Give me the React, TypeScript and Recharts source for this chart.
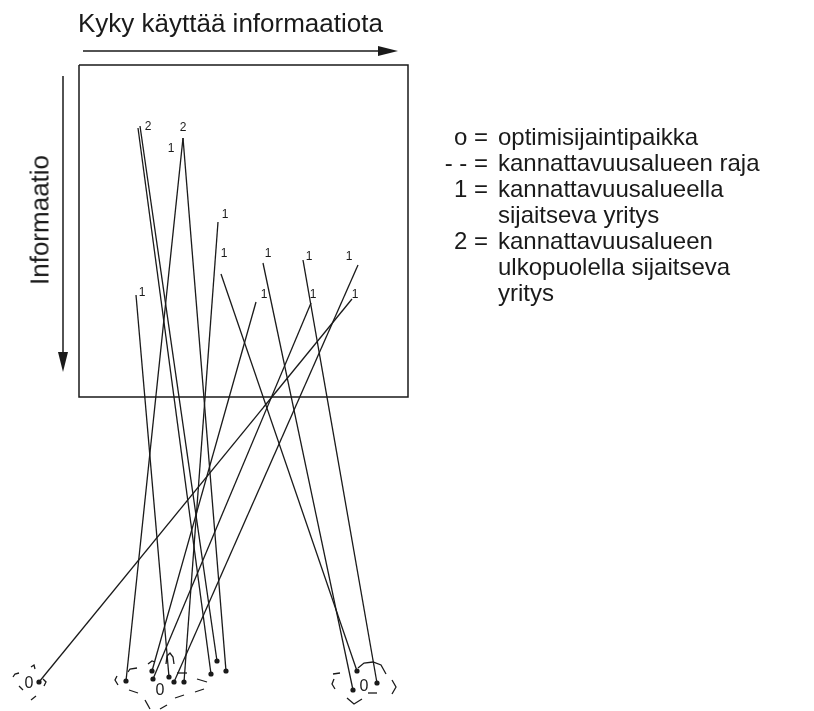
import { ComposedChart, Line, Scatter, XAxis, YAxis } from "recharts";

// diagram coordinates (same units as the picture)
const boxX = [79, 408, 408, 79, 79];
const boxY = [65, 65, 397, 397, 65];

// firm position inside the box -> realised location at the bottom
const fromX = [138, 140, 183, 183, 218, 136, 256, 311, 358, 352, 221, 263, 303];
const fromY = [128, 126, 138, 138, 222, 295, 302, 303, 265, 299, 274, 263, 260];
const toX = [211, 217, 126, 226, 184, 169, 152, 153, 174, 39, 357, 353, 377];
const toY = [674, 661, 681, 671, 682, 677, 671, 679, 682, 682, 671, 690, 683];

// firm labels 1 / 2
const labelText = ["2", "2", "1", "1", "1", "1", "1", "1", "1", "1", "1", "1"];
const labelX = [148, 183, 171, 225, 224, 268, 309, 349, 142, 264, 313, 355];
const labelY = [126, 127, 148, 214, 253, 253, 256, 256, 292, 294, 294, 294];

// optimum locations
const optX = [29, 160, 364];
const optY = [682, 689, 685];

// hand drawn boundary dashes (polylines)
const dashes: number[][][] = [
  [[13, 677], [15, 674], [19, 673]],
  [[19, 686], [23, 690]],
  [[31, 667], [34, 665], [35, 669]],
  [[43, 679], [46, 682], [44, 686]],
  [[31, 700], [36, 696]],
  [[117, 676], [115, 680], [118, 685]],
  [[128, 672], [130, 669], [137, 668]],
  [[129, 690], [138, 693]],
  [[145, 700], [150, 709]],
  [[160, 709], [167, 705]],
  [[175, 698], [184, 695]],
  [[195, 692], [204, 689]],
  [[197, 679], [207, 682]],
  [[148, 664], [152, 661], [155, 662]],
  [[166, 664], [167, 656], [170, 653], [173, 657], [174, 664]],
  [[177, 673], [187, 673]],
  [[333, 674], [340, 673]],
  [[334, 679], [332, 684], [335, 689]],
  [[347, 698], [354, 704], [362, 699]],
  [[368, 693], [377, 693]],
  [[392, 680], [396, 687], [392, 694]],
  [[358, 668], [364, 663], [373, 662], [381, 665], [386, 674]],
];

// axis arrows
const arrowShaftX = [[83, 385], [63, 63]];
const arrowShaftY = [[51, 51], [76, 355]];
const arrowTipX = [398, 63];
const arrowTipY = [51, 372];
const arrowDir = ["right", "down"];

const legendSymbols = ["o =", "- - =", "1 =", "", "2 =", "", ""];
const legendTexts = [
  "optimisijaintipaikka",
  "kannattavuusalueen raja",
  "kannattavuusalueella",
  "sijaitseva yritys",
  "kannattavuusalueen",
  "ulkopuolella sijaitseva",
  "yritys",
];

const FONT = "'Liberation Sans', Arial, Helvetica, sans-serif";
const INK = "#1a1a1a";

const segments = fromX.map((_, i) => [
  { x: fromX[i], y: fromY[i] },
  { x: toX[i], y: toY[i] },
]);
const box = boxX.map((x, i) => ({ x, y: boxY[i] }));
const ends = toX.map((x, i) => ({ x, y: toY[i] }));
const labels = labelX.map((x, i) => ({ x, y: labelY[i], t: labelText[i] }));
const optima = optX.map((x, i) => ({ x, y: optY[i] }));
const shafts = arrowShaftX.map((xs, i) => xs.map((x, j) => ({ x, y: arrowShaftY[i][j] })));
const tips = arrowTipX.map((x, i) => ({ x, y: arrowTipY[i], d: arrowDir[i] }));

function TextMark(props: any) {
  const { cx, cy, payload, size, text } = props;
  return (
    <text x={cx} y={cy} textAnchor="middle" dominantBaseline="central" fontSize={size} fontFamily={FONT} fill={INK}>
      {text ?? payload.t}
    </text>
  );
}

function ArrowHead(props: any) {
  const { cx, cy, payload } = props;
  const pts =
    payload.d === "right"
      ? `${cx},${cy} ${cx - 20},${cy - 5} ${cx - 20},${cy + 5}`
      : `${cx},${cy} ${cx - 5},${cy - 20} ${cx + 5},${cy - 20}`;
  return <polygon points={pts} fill={INK} />;
}

export default function App() {
  return (
    <div style={{ position: "relative", width: 806, height: 703, fontFamily: FONT, color: INK }}>
      <div style={{ willChange: "transform", width: 806, height: 703 }}>
        <ComposedChart width={806} height={703} margin={{ top: 0, right: 0, bottom: 0, left: 0 }}>
          <XAxis type="number" dataKey="x" domain={[8, 814]} hide />
          <YAxis type="number" dataKey="y" domain={[8, 711]} reversed hide />
          <Line data={box} dataKey="y" stroke={INK} strokeWidth={1.5} dot={false} isAnimationActive={false} />
          {shafts.map((s, i) => (
            <Line key={"a" + i} data={s} dataKey="y" stroke={INK} strokeWidth={1.5} dot={false} isAnimationActive={false} />
          ))}
          {segments.map((s, i) => (
            <Line key={"s" + i} data={s} dataKey="y" stroke={INK} strokeWidth={1.3} dot={false} isAnimationActive={false} />
          ))}
          {dashes.map((d, i) => (
            <Line
              key={"d" + i}
              data={d.map(([x, y]) => ({ x, y }))}
              dataKey="y"
              stroke={INK}
              strokeWidth={1.3}
              dot={false}
              isAnimationActive={false}
            />
          ))}
          <Scatter data={tips} shape={<ArrowHead />} isAnimationActive={false} />
          <Scatter data={ends} fill={INK} shape={(p: any) => <circle cx={p.cx} cy={p.cy} r={2.6} fill={INK} />} isAnimationActive={false} />
          <Scatter data={labels} shape={(p: any) => <TextMark {...p} size={12} />} isAnimationActive={false} />
          <Scatter data={optima} shape={(p: any) => <TextMark {...p} size={16} text="0" />} isAnimationActive={false} />
        </ComposedChart>
      </div>

      <div style={{ position: "absolute", left: 70, top: 0, fontSize: 26, whiteSpace: "nowrap" }}>
        Kyky käyttää informaatiota
      </div>
      <div
        style={{
          position: "absolute",
          left: 40 - 8,
          top: 220 - 8,
          fontSize: 26,
          whiteSpace: "nowrap",
          transform: "translate(-50%, -50%) rotate(-90deg)",
        }}
      >
        Informaatio
      </div>
      <div style={{ position: "absolute", left: 418, top: 116, fontSize: 24, lineHeight: "26px" }}>
        {legendTexts.map((t, i) => (
          <div key={i} style={{ display: "flex", whiteSpace: "nowrap" }}>
            <span style={{ width: 62, textAlign: "right", paddingRight: 10 }}>{legendSymbols[i]}</span>
            <span>{t}</span>
          </div>
        ))}
      </div>
    </div>
  );
}
